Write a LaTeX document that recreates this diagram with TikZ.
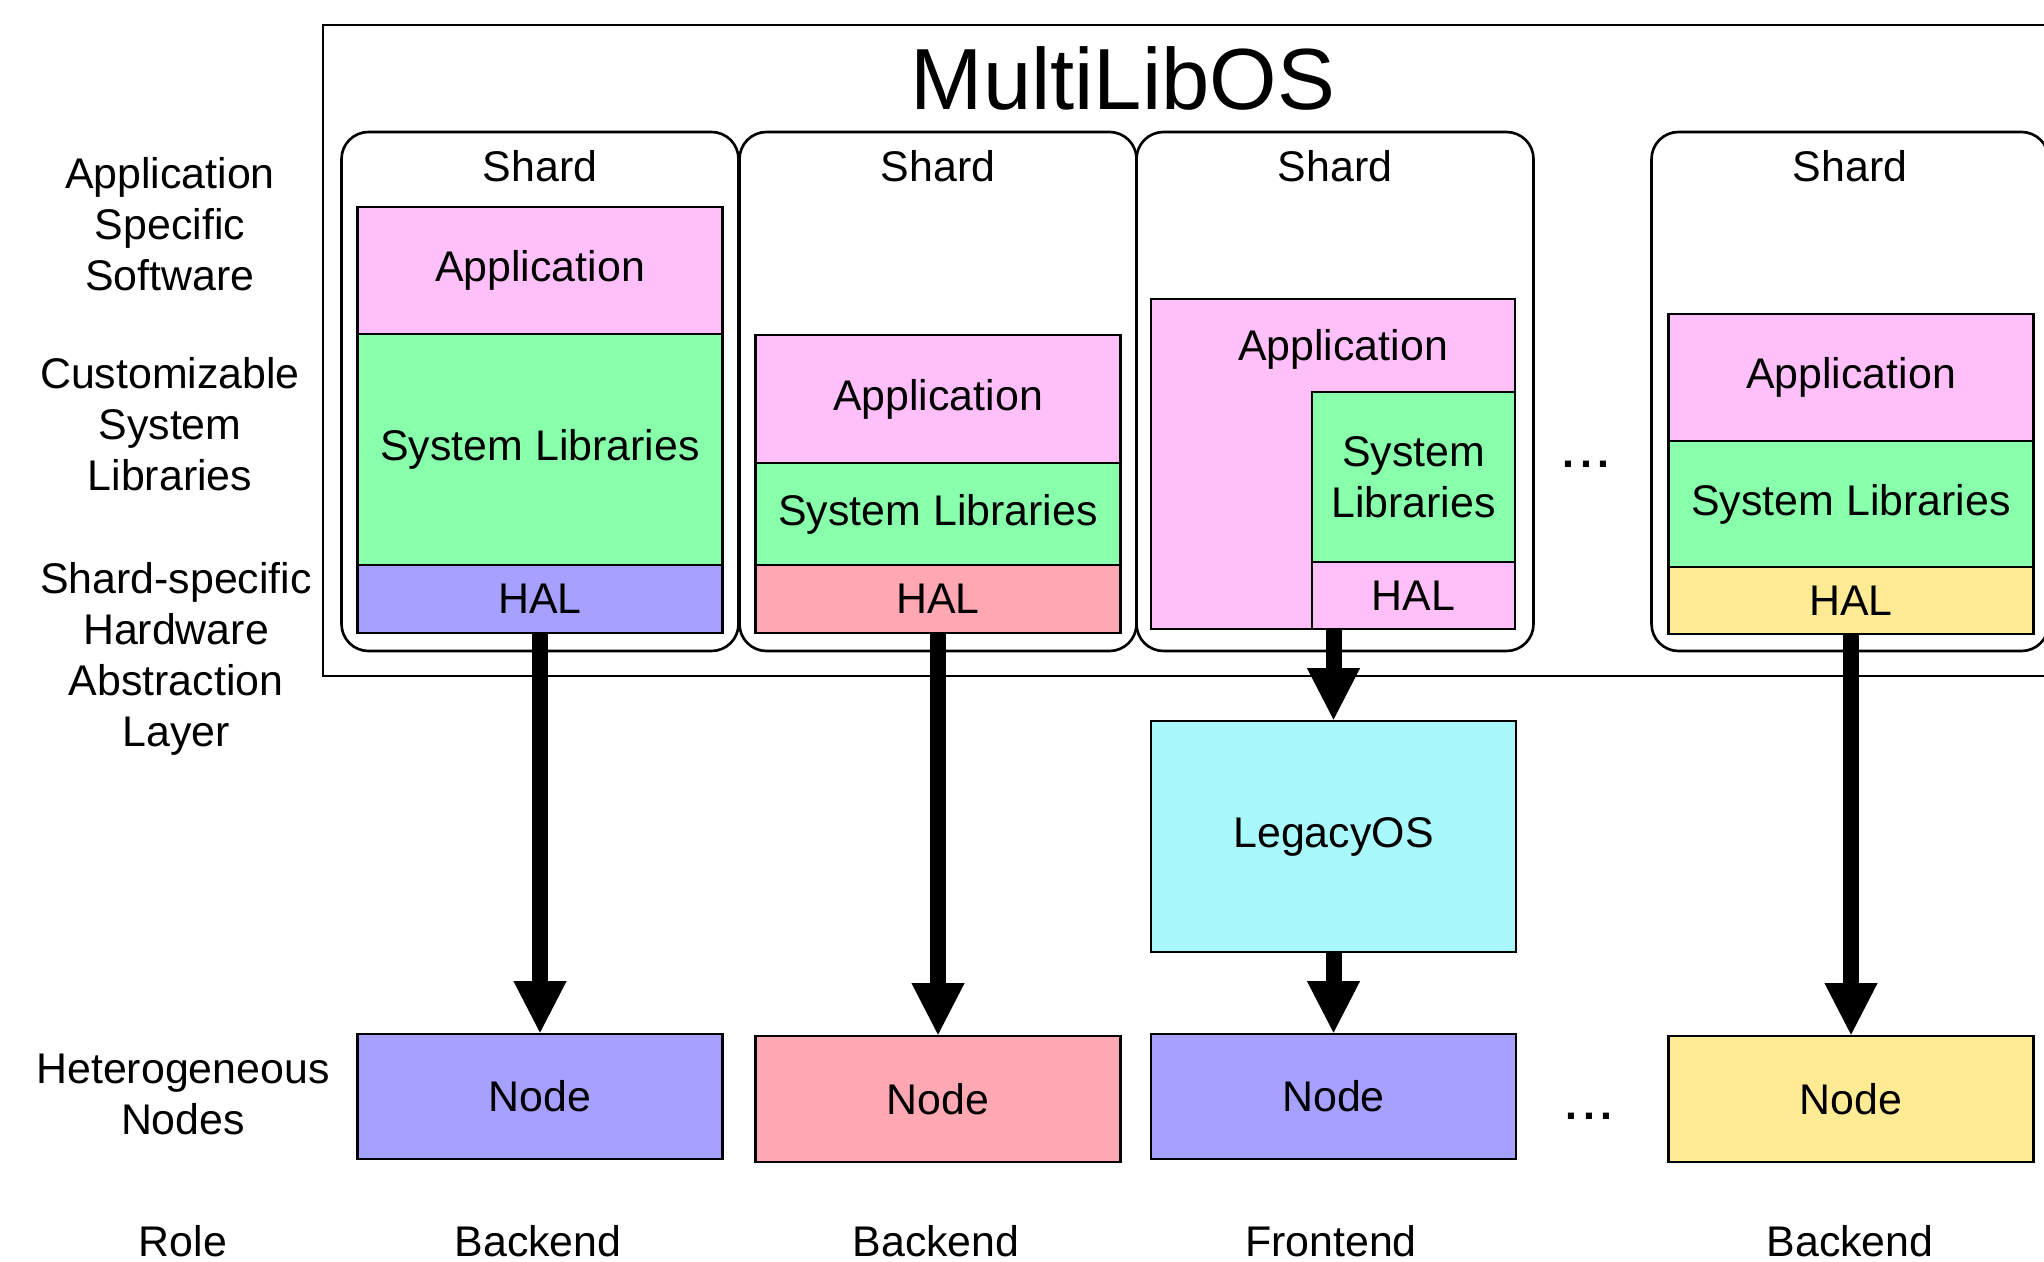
\documentclass[tikz,border=0pt]{standalone}
\usepackage{fontspec}
\setmainfont{Liberation Sans}
\usetikzlibrary{arrows.meta,positioning}

\definecolor{colapp}{RGB}{255,192,250}
\definecolor{colsys}{RGB}{136,255,170}
\definecolor{colazul}{RGB}{166,160,255}
\definecolor{colrosa}{RGB}{255,168,180}
\definecolor{colamarillo}{RGB}{255,235,148}
\definecolor{colcian}{RGB}{168,248,252}

\begin{document}
\begin{tikzpicture}[
        font=\fontsize{12.2}{14.5}\selectfont,
        capa/.style={draw, line width=0.75pt, minimum width=3.65cm, inner sep=0pt, outer sep=0pt, align=center},
        shard/.style={draw, line width=0.75pt, rounded corners=0.27cm, minimum width=3.97cm, minimum height=5.19cm},
        flecha/.style={line width=0.16cm, -{Triangle[width=0.49cm,length=0.53cm]}}
    ]
        % Fija el tamaño del dibujo.
        \useasboundingbox (0,0) rectangle (20.44,-12.62);
        \clip (0,0) rectangle (20.44,-12.62);

        % Marco exterior y título.
        \draw[line width=0.75pt] (3.23,-0.25) rectangle (20.80,-6.76);
        \node (titulo) at (11.23,-0.78) {\fontsize{24.7}{28}\selectfont MultiLibOS};

        % Dibuja los cuatro shards.
        \node[shard] (shard1) at (5.40,-3.915) {};
        \node[shard] (shard2) at (9.38,-3.915) {};
        \node[shard] (shard3) at (13.35,-3.915) {};
        \node[shard] (shard4) at (18.50,-3.915) {};
        \node (lshard1) at (5.40,-1.66) {Shard};
        \node (lshard2) at (9.38,-1.66) {Shard};
        \node (lshard3) at (13.35,-1.66) {Shard};
        \node (lshard4) at (18.50,-1.66) {Shard};

        % Capas del shard 1.
        \node[capa, fill=colapp, minimum height=1.27cm] (app1) at (5.40,-2.705) {Application};
        \node[capa, fill=colsys, minimum height=2.31cm, below=0pt of app1] (sys1) {System Libraries};
        \node[capa, fill=colazul, minimum height=0.68cm, below=0pt of sys1] (hal1) {HAL};

        % Capas del shard 2.
        \node[capa, fill=colapp, minimum height=1.28cm] (app2) at (9.38,-3.99) {Application};
        \node[capa, fill=colsys, minimum height=1.02cm, below=0pt of app2] (sys2) {System Libraries};
        \node[capa, fill=colrosa, minimum height=0.68cm, below=0pt of sys2] (hal2) {HAL};

        % Capas del shard 3 (frontend).
        \node[capa, fill=colapp, minimum width=3.64cm, minimum height=3.30cm] (app3) at (13.33,-4.64) {};
        \node (lapp3) at (13.43,-3.49) {Application};
        \node[capa, fill=colapp, minimum width=2.03cm, minimum height=0.67cm, anchor=south east] (hal3) at (app3.south east) {HAL};
        \node[capa, fill=colsys, minimum width=2.03cm, minimum height=1.70cm, above=0pt of hal3] (sys3) {System\\Libraries};

        % Capas del shard 4.
        \node[capa, fill=colapp, minimum height=1.27cm] (app4) at (18.51,-3.775) {Application};
        \node[capa, fill=colsys, minimum height=1.26cm, below=0pt of app4] (sys4) {System Libraries};
        \node[capa, fill=colamarillo, minimum height=0.67cm, below=0pt of sys4] (hal4) {HAL};

        % LegacyOS y nodos heterogéneos.
        \node[capa, fill=colcian, minimum height=2.31cm] (legacy) at (13.335,-8.365) {LegacyOS};
        \node[capa, fill=colazul, minimum height=1.25cm] (nodo1) at (5.40,-10.965) {Node};
        \node[capa, fill=colrosa, minimum height=1.26cm] (nodo2) at (9.38,-10.99) {Node};
        \node[capa, fill=colazul, minimum height=1.25cm] (nodo3) at (13.335,-10.965) {Node};
        \node[capa, fill=colamarillo, minimum height=1.26cm] (nodo4) at (18.51,-10.99) {Node};

        % Puntos suspensivos.
        \node (puntos1) at (15.86,-4.64) {\bfseries .\hspace{0.06cm}.\hspace{0.06cm}.};
        \node (puntos2) at (15.89,-11.16) {\bfseries .\hspace{0.06cm}.\hspace{0.06cm}.};

        % Flechas entre capas y nodos.
        \draw[flecha] (hal1) -- (nodo1);
        \draw[flecha] (hal2) -- (nodo2);
        \draw[flecha] (legacy.north |- hal3.south) -- (legacy);
        \draw[flecha] (legacy) -- (nodo3);
        \draw[flecha] (hal4) -- (nodo4);

        % Etiquetas de la izquierda.
        \node[align=center] (eapp) at (1.70,-2.24) {Application\\Specific\\Software};
        \node[align=center] (esys) at (1.70,-4.24) {Customizable\\System\\Libraries};
        \node[align=center] (ehal) at (1.76,-6.59) {Shard-specific\\Hardware\\Abstraction\\Layer};
        \node[align=center] (enodo) at (1.83,-10.94) {Heterogeneous\\Nodes};

        % Papel de cada nodo.
        \node (rol) at (1.83,-12.41) {Role};
        \node (rol1) at (5.38,-12.41) {Backend};
        \node (rol2) at (9.36,-12.41) {Backend};
        \node (rol3) at (13.31,-12.41) {Frontend};
        \node (rol4) at (18.50,-12.41) {Backend};
    \end{tikzpicture}
\end{document}
